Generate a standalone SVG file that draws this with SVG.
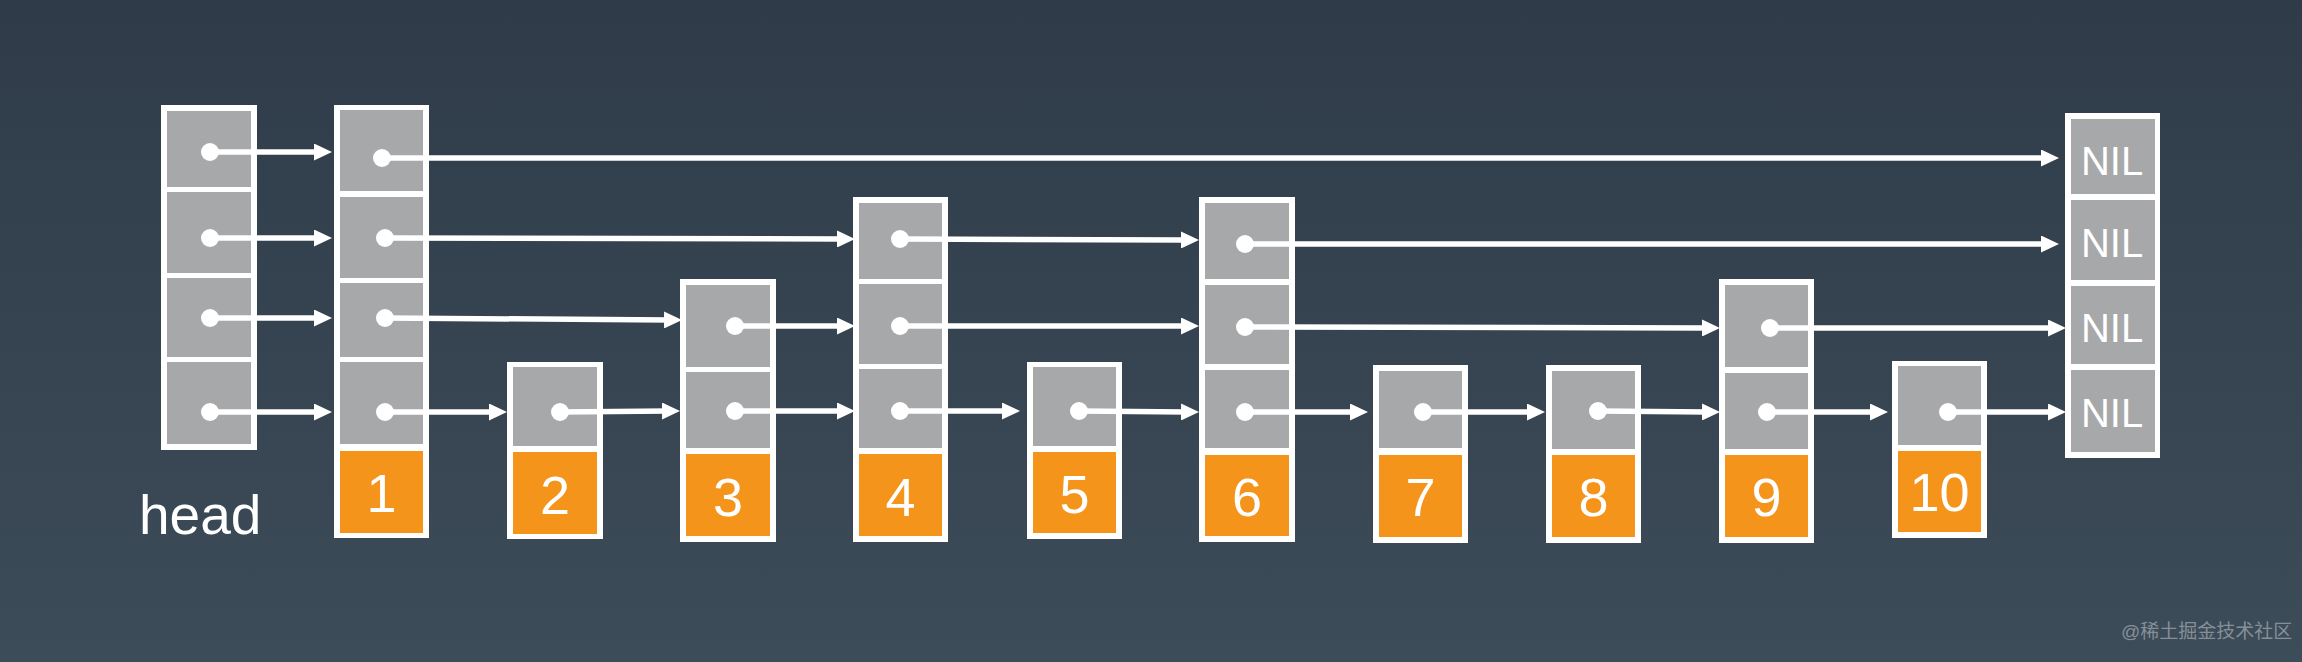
<svg xmlns="http://www.w3.org/2000/svg" width="2302" height="662" viewBox="0 0 2302 662">
<defs>
<linearGradient id="bg" x1="0" y1="0" x2="0" y2="1">
<stop offset="0" stop-color="#2f3b48"/>
<stop offset="1" stop-color="#3d4c59"/>
</linearGradient>
<marker id="ah" markerUnits="userSpaceOnUse" markerWidth="18" markerHeight="17" refX="6" refY="8.5" orient="auto">
<path d="M0,0 L18,8.5 L0,17 z" fill="#ffffff"/>
</marker>
<style>
.frame{fill:#ffffff}
.cell{fill:#a7a8aa}
.val{fill:#f4941b}
.num{font-family:"Liberation Sans",Arial,sans-serif;font-size:54px;fill:#ffffff;text-anchor:middle}
.nil{font-family:"Liberation Sans",Arial,sans-serif;font-size:40px;fill:#ffffff;text-anchor:middle}
.lbl{font-family:"Liberation Sans",Arial,sans-serif;font-size:55px;fill:#ffffff}
.wm{font-family:"Liberation Sans","Noto Sans CJK SC",sans-serif;font-size:19px;fill:#858f98}
.link{fill:none;stroke:#ffffff;stroke-width:5.5;marker-end:url(#ah)}
.dot{fill:#ffffff}
</style>
</defs>
<rect x="0" y="0" width="2302" height="662" fill="url(#bg)"/>

<g id="head">
<rect class="frame" x="161" y="105" width="96" height="345"/>
<rect class="cell" x="167" y="111" width="84" height="76"/>
<rect class="cell" x="167" y="192" width="84" height="81"/>
<rect class="cell" x="167" y="278" width="84" height="79"/>
<rect class="cell" x="167" y="362" width="84" height="82"/>
<text class="lbl" x="139" y="534">head</text>
</g>

<g id="node1">
<rect class="frame" x="334" y="105" width="95" height="433"/>
<rect class="cell" x="340" y="110" width="83" height="81"/>
<rect class="cell" x="340" y="197" width="83" height="81"/>
<rect class="cell" x="340" y="283" width="83" height="74"/>
<rect class="cell" x="340" y="362" width="83" height="82"/>
<rect class="val" x="340" y="451" width="83" height="82"/>
<text class="num" x="381.5" y="512">1</text>
</g>

<g id="node2">
<rect class="frame" x="507" y="362" width="96" height="177"/>
<rect class="cell" x="513" y="367" width="84" height="79"/>
<rect class="val" x="513" y="452" width="84" height="82"/>
<text class="num" x="555" y="514">2</text>
</g>

<g id="node3">
<rect class="frame" x="680" y="279" width="96" height="263"/>
<rect class="cell" x="686" y="285" width="84" height="82"/>
<rect class="cell" x="686" y="372" width="84" height="76"/>
<rect class="val" x="686" y="454" width="84" height="82"/>
<text class="num" x="728" y="516">3</text>
</g>

<g id="node4">
<rect class="frame" x="853" y="197" width="95" height="345"/>
<rect class="cell" x="859" y="203" width="83" height="76"/>
<rect class="cell" x="859" y="284" width="83" height="80"/>
<rect class="cell" x="859" y="369" width="83" height="79"/>
<rect class="val" x="859" y="454" width="83" height="82"/>
<text class="num" x="900.5" y="516">4</text>
</g>

<g id="node5">
<rect class="frame" x="1027" y="362" width="95" height="177"/>
<rect class="cell" x="1033" y="367" width="83" height="79"/>
<rect class="val" x="1033" y="452" width="83" height="81"/>
<text class="num" x="1074.5" y="513">5</text>
</g>

<g id="node6">
<rect class="frame" x="1199" y="197" width="96" height="345"/>
<rect class="cell" x="1205" y="203" width="84" height="76"/>
<rect class="cell" x="1205" y="285" width="84" height="79"/>
<rect class="cell" x="1205" y="370" width="84" height="78"/>
<rect class="val" x="1205" y="455" width="84" height="81"/>
<text class="num" x="1247" y="516">6</text>
</g>

<g id="node7">
<rect class="frame" x="1373" y="365" width="95" height="178"/>
<rect class="cell" x="1379" y="371" width="83" height="77"/>
<rect class="val" x="1379" y="455" width="83" height="82"/>
<text class="num" x="1420.5" y="516">7</text>
</g>

<g id="node8">
<rect class="frame" x="1546" y="365" width="95" height="178"/>
<rect class="cell" x="1552" y="371" width="83" height="78"/>
<rect class="val" x="1552" y="455" width="83" height="82"/>
<text class="num" x="1593.5" y="516">8</text>
</g>

<g id="node9">
<rect class="frame" x="1719" y="279" width="95" height="264"/>
<rect class="cell" x="1725" y="285" width="83" height="82"/>
<rect class="cell" x="1725" y="373" width="83" height="76"/>
<rect class="val" x="1725" y="455" width="83" height="82"/>
<text class="num" x="1766.5" y="516">9</text>
</g>

<g id="node10">
<rect class="frame" x="1892" y="361" width="95" height="177"/>
<rect class="cell" x="1898" y="366" width="83" height="79"/>
<rect class="val" x="1898" y="451" width="83" height="81"/>
<text class="num" x="1939.5" y="511">10</text>
</g>

<g id="nil">
<rect class="frame" x="2065" y="113" width="95" height="345"/>
<rect class="cell" x="2071" y="119" width="84" height="75"/>
<rect class="cell" x="2071" y="200" width="84" height="80"/>
<rect class="cell" x="2071" y="286" width="84" height="78"/>
<rect class="cell" x="2071" y="370" width="84" height="82"/>
<text class="nil" x="2112" y="175">NIL</text>
<text class="nil" x="2112" y="257">NIL</text>
<text class="nil" x="2112" y="342">NIL</text>
<text class="nil" x="2112" y="427">NIL</text>
</g>

<g id="connectors">
<path class="link" d="M210 152H320"/>
<path class="link" d="M382 158H2047"/>
<path class="link" d="M210 238H320"/>
<path class="link" d="M385 238L843 239"/>
<path class="link" d="M900 239L1187 240"/>
<path class="link" d="M1245 244H2047"/>
<path class="link" d="M210 318H320"/>
<path class="link" d="M385 318L670 320"/>
<path class="link" d="M735 326H843"/>
<path class="link" d="M900 326H1187"/>
<path class="link" d="M1245 327L1708 328"/>
<path class="link" d="M1770 328H2054"/>
<path class="link" d="M210 412H320"/>
<path class="link" d="M385 412H495"/>
<path class="link" d="M560 412L668 411"/>
<path class="link" d="M735 411H843"/>
<path class="link" d="M900 411H1008"/>
<path class="link" d="M1079 411L1187 412"/>
<path class="link" d="M1245 412H1356"/>
<path class="link" d="M1423 412H1533"/>
<path class="link" d="M1598 411L1708 412"/>
<path class="link" d="M1767 412H1876"/>
<path class="link" d="M1948 412H2054"/>
<circle class="dot" cx="210" cy="152" r="9"/>
<circle class="dot" cx="210" cy="238" r="9"/>
<circle class="dot" cx="210" cy="318" r="9"/>
<circle class="dot" cx="210" cy="412" r="9"/>
<circle class="dot" cx="382" cy="158" r="9"/>
<circle class="dot" cx="385" cy="238" r="9"/>
<circle class="dot" cx="385" cy="318" r="9"/>
<circle class="dot" cx="385" cy="412" r="9"/>
<circle class="dot" cx="560" cy="412" r="9"/>
<circle class="dot" cx="735" cy="326" r="9"/>
<circle class="dot" cx="735" cy="411" r="9"/>
<circle class="dot" cx="900" cy="239" r="9"/>
<circle class="dot" cx="900" cy="326" r="9"/>
<circle class="dot" cx="900" cy="411" r="9"/>
<circle class="dot" cx="1079" cy="411" r="9"/>
<circle class="dot" cx="1245" cy="244" r="9"/>
<circle class="dot" cx="1245" cy="327" r="9"/>
<circle class="dot" cx="1245" cy="412" r="9"/>
<circle class="dot" cx="1423" cy="412" r="9"/>
<circle class="dot" cx="1598" cy="411" r="9"/>
<circle class="dot" cx="1770" cy="328" r="9"/>
<circle class="dot" cx="1767" cy="412" r="9"/>
<circle class="dot" cx="1948" cy="412" r="9"/>
</g>

<text class="wm" x="2121" y="638">@稀土掘金技术社区</text>
</svg>
